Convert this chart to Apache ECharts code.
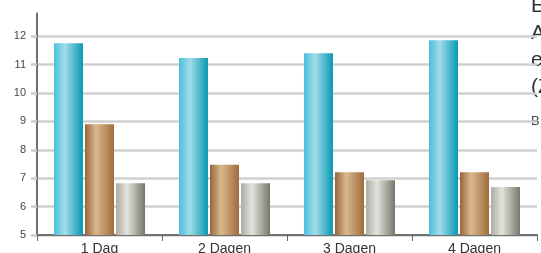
<!DOCTYPE html>
<html>
<head>
<meta charset="utf-8">
<script src="https://cdn.jsdelivr.net/npm/echarts@6/dist/echarts.min.js"></script>
<style>
  html, body { margin: 0; padding: 0; background: #fff; }
  #chart { width: 541px; height: 253px; }
</style>
</head>
<body>
<div id="chart"></div>
<script>
// Data
const categories = ['1 Dag', '2 Dagen', '3 Dagen', '4 Dagen'];
const seriesBlue = [11.75, 11.23, 11.4, 11.86];
const seriesBrown = [8.9, 7.47, 7.21, 7.21];
const seriesGrey = [6.82, 6.82, 6.93, 6.69];
const yTicks = [5, 6, 7, 8, 9, 10, 11, 12];
const sideText = ['E', 'A', 'e', '(Z'];

const chart = echarts.init(document.getElementById('chart'));

// horizontal shiny gradient for cylinder-like bars
function shine(c0, c1, c2) {
  return new echarts.graphic.LinearGradient(0, 0, 1, 0, [
    { offset: 0, color: c0 },
    { offset: 0.38, color: c1 },
    { offset: 1, color: c2 }
  ]);
}

// last split line sits on the top end of the axis (12.8) and is hidden
const splitColors = yTicks.map(() => '#d0d0d0').concat(['rgba(0,0,0,0)']);

const barBase = {
  type: 'bar',
  barWidth: 29,
  barGap: '7%',
  animation: false
};

chart.setOption({
  animation: false,
  textStyle: { fontFamily: 'Liberation Sans, Arial, sans-serif' },
  grid: { left: 37, right: 4, top: 13.5, bottom: 18, outerBoundsMode: 'none', containLabel: false },
  xAxis: {
    type: 'category',
    data: categories,
    axisLine: { lineStyle: { color: '#707070', width: 2 } },
    axisTick: { show: true, length: 6, lineStyle: { color: '#666' } },
    axisLabel: { color: '#333', fontSize: 14, margin: 7 },
    splitLine: { show: false }
  },
  yAxis: {
    type: 'value',
    min: 5,
    max: 12.8,
    interval: 1,
    axisLine: { show: true, lineStyle: { color: '#707070', width: 2 } },
    axisTick: {
      show: true, length: 6, customValues: yTicks,
      lineStyle: { color: '#cccccc', width: 2.5 }
    },
    axisLabel: {
      color: '#444', fontSize: 11, margin: 11, customValues: yTicks
    },
    splitLine: { show: true, lineStyle: { color: splitColors, width: 2.5 } }
  },
  series: [
    Object.assign({}, barBase, {
      data: seriesBlue,
      itemStyle: { color: shine('#48c0da', '#a2dcea', '#0798b2') }
    }),
    Object.assign({}, barBase, {
      data: seriesBrown,
      itemStyle: { color: shine('#98653a', '#d9b98d', '#a16c3c') }
    }),
    Object.assign({}, barBase, {
      data: seriesGrey,
      itemStyle: { color: shine('#acaca4', '#e3e3dd', '#76766a') }
    })
  ],
  graphic: sideText.map((t, i) => ({
    type: 'text',
    left: 531,
    top: -4 + i * 27,
    style: { text: t, fontSize: 21, fill: '#333', fontFamily: 'Liberation Sans, Arial, sans-serif' }
  })).concat([{
    type: 'text',
    left: 531,
    top: 115,
    style: { text: 'B', fontSize: 13, fill: '#444', fontFamily: 'Liberation Sans, Arial, sans-serif' }
  }])
});
</script>
</body>
</html>
